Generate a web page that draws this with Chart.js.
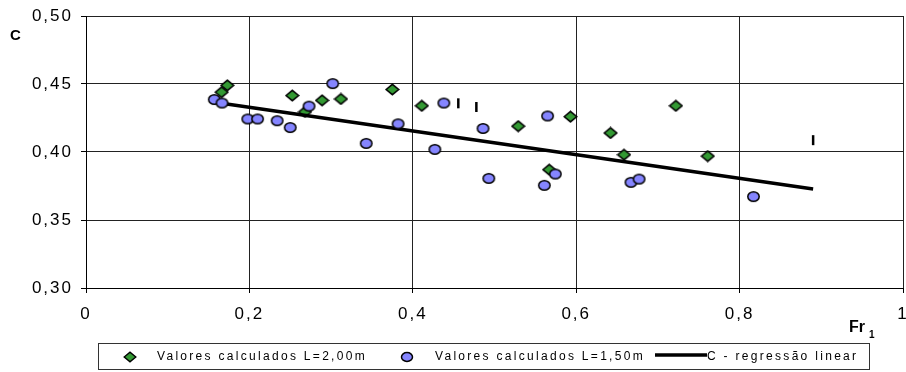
<!DOCTYPE html>
<html>
<head>
<meta charset="utf-8">
<script src="https://cdn.jsdelivr.net/npm/chart.js@4.4.1/dist/chart.umd.min.js"></script>
<style>
  body { margin: 0; background: #fff; }
  #wrap { position: relative; width: 906px; height: 372px; font-family: "Liberation Sans", Arial, sans-serif; }
  #chart { position: absolute; left: 0; top: 0; }
  .ttl { position: absolute; font-weight: bold; color: #000; line-height: 1; }
  #legend { position: absolute; left: 98px; top: 343px; width: 772px; height: 27px; box-sizing: border-box; border: 1px solid #333; }
  .lg { position: absolute; font-size: 12px; letter-spacing: 2.3px; line-height: 14px; white-space: nowrap; color: #000; }
  .mk { position: absolute; }
</style>
</head>
<body>
<div id="wrap">
  <canvas id="chart" width="906" height="372"></canvas>
  <div class="ttl" style="left:10px;top:27px;font-size:15px;">C</div>
  <div class="ttl" style="left:849px;top:319px;font-size:16px;">Fr<span style="font-size:10px;position:relative;top:6px;left:4px;">1</span></div>
  <div id="legend"></div>
  <svg class="mk" style="left:123px;top:351px" width="14" height="12"><path d="M1.2 6 L7 1.2 L12.8 6 L7 10.8 Z" fill="#339933" stroke="#000" stroke-width="1.4"/></svg>
  <div class="lg" style="left:157px;top:349px">Valores calculados L=2,00m</div>
  <svg class="mk" style="left:400px;top:351px" width="14" height="12"><ellipse cx="7" cy="6" rx="5.5" ry="4.5" fill="#8585ff" stroke="#000" stroke-width="1.5"/></svg>
  <div class="lg" style="left:435px;top:349px">Valores calculados L=1,50m</div>
  <svg class="mk" style="left:655px;top:351px" width="52" height="8"><line x1="0" y1="4" x2="52" y2="4" stroke="#000" stroke-width="3.5"/></svg>
  <div class="lg" style="left:707px;top:349px">C - regressão linear</div>
</div>
<script>
// Fr1 / C pairs
const fr1Green = [0.173, 0.166, 0.2525, 0.268, 0.289, 0.312, 0.375, 0.411, 0.529, 0.593, 0.642, 0.722, 0.6585, 0.761, 0.567];
const cGreen   = [0.449, 0.444, 0.4415, 0.4295, 0.438, 0.439, 0.446, 0.434, 0.419, 0.426, 0.414, 0.434, 0.398, 0.397, 0.387];

const fr1Blue = [0.157, 0.1665, 0.198, 0.210, 0.234, 0.250, 0.273, 0.302, 0.343, 0.382, 0.427, 0.438, 0.486, 0.493, 0.565, 0.561, 0.5745, 0.667, 0.677, 0.817];
const cBlue   = [0.4386, 0.436, 0.4243, 0.4243, 0.423, 0.418, 0.4337, 0.4503, 0.4063, 0.4207, 0.4019, 0.436, 0.4173, 0.3806, 0.4265, 0.3755, 0.3838, 0.3777, 0.3801, 0.3672];

const fr1Reg = [0.168, 0.890];
const cReg   = [0.4356, 0.3728];

const fr1Mark = [0.4557, 0.4778, 0.890];
const cMark   = [0.4358, 0.4331, 0.4087];

function pts(xs, ys) {
    return xs.map((x, i) => ({ x: x, y: ys[i] }));
}

// squashed markers, like the source picture
function markerCanvas(kind) {
    const c = document.createElement('canvas');
    c.width = 15; c.height = 13;
    const g = c.getContext('2d');
    g.beginPath();
    if (kind === 'diamond') {
        g.moveTo(1.2, 6.5); g.lineTo(7.5, 1.3); g.lineTo(13.8, 6.5); g.lineTo(7.5, 11.7); g.closePath();
        g.fillStyle = '#339933';
    } else {
        g.ellipse(7.5, 6.5, 5.7, 4.7, 0, 0, Math.PI * 2);
        g.fillStyle = '#8585ff';
    }
    g.fill();
    g.lineWidth = 1.5;
    g.strokeStyle = '#000';
    g.stroke();
    return c;
}

const spacing = {
    id: 'spacing',
    beforeLayout(chart) { chart.ctx.letterSpacing = '2px'; },
    beforeDraw(chart) { chart.ctx.letterSpacing = '2px'; }
};

function comma(v, d) {
    if (v === 0 || v === 1) return String(v);
    return v.toFixed(d).replace('.', ',');
}

new Chart(document.getElementById('chart').getContext('2d'), {
    type: 'scatter',
    data: {
        datasets: [
            {
                label: 'Valores calculados L=1,50m',
                data: pts(fr1Blue, cBlue),
                pointStyle: markerCanvas('circle'),
                order: 1
            },
            {
                label: 'C - regressão linear',
                data: pts(fr1Reg, cReg),
                showLine: true,
                borderColor: '#000',
                borderWidth: 3.5,
                pointRadius: 0,
                order: 2
            },
            {
                label: 'marks',
                data: pts(fr1Mark, cMark),
                pointStyle: 'line',
                rotation: 90,
                radius: 5,
                borderColor: '#000',
                borderWidth: 2.5,
                order: 3
            },
            {
                label: 'Valores calculados L=2,00m',
                data: pts(fr1Green, cGreen),
                pointStyle: markerCanvas('diamond'),
                order: 4
            }
        ]
    },
    options: {
        responsive: false,
        animation: false,
        layout: { autoPadding: false, padding: { top: 16, right: 3, left: 0, bottom: 0 } },
        plugins: { legend: { display: false }, tooltip: { enabled: false } },
        scales: {
            x: {
                type: 'linear',
                min: 0, max: 1,
                afterFit(s) { s.height = 84; s.paddingLeft = 0; s.paddingRight = 0; },
                ticks: {
                    stepSize: 0.2,
                    padding: 11,
                    color: '#000',
                    font: { family: '"Liberation Sans", Arial', size: 17 },
                    callback: v => comma(v, 1)
                },
                grid: { color: '#222', lineWidth: 1, tickLength: 5, tickColor: '#000' },
                border: { color: '#000', width: 1 }
            },
            y: {
                min: 0.3, max: 0.5,
                afterFit(s) { s.width = 86; s.paddingTop = 0; s.paddingBottom = 0; },
                ticks: {
                    stepSize: 0.05,
                    padding: 8,
                    color: '#000',
                    font: { family: '"Liberation Sans", Arial', size: 17 },
                    callback: v => comma(v, 2)
                },
                grid: { color: '#222', lineWidth: 1, tickLength: 5, tickColor: '#000' },
                border: { color: '#000', width: 1 }
            }
        }
    },
    plugins: [spacing]
});
</script>
</body>
</html>
